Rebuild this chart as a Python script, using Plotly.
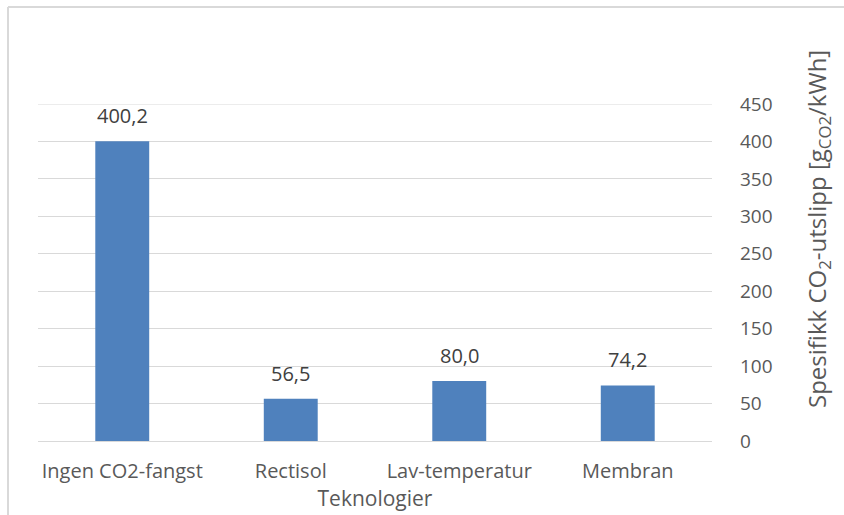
import plotly.graph_objects as go

categories = ["Ingen CO2-fangst", "Rectisol", "Lav-temperatur", "Membran"]
values = [400.2, 56.5, 80.0, 74.2]
labels = ["400,2", "56,5", "80,0", "74,2"]
y_ticks = [0, 50, 100, 150, 200, 250, 300, 350, 400, 450]

W, H = 844, 515
ml, mr, mt, mb = 38, 132, 104, 74
pw = W - ml - mr
ph = H - mt - mb

def px_to_paper_x(px):
    return (px - ml) / pw

def px_to_paper_y(py):
    return (H - mb - py) / ph

grey = "#595959"
font_family = "Open Sans, Liberation Sans, sans-serif"

fig = go.Figure(go.Bar(
    x=categories, y=values,
    marker=dict(color="#4F81BD", line=dict(width=0)),
    width=0.32, hoverinfo="x+y",
))

for c, v, t in zip(categories, values, labels):
    fig.add_annotation(x=c, y=v, text=t, showarrow=False, yanchor="bottom",
                       yshift=10, font=dict(size=20, color="#404040", family=font_family))

fig.add_annotation(
    text="Spesifikk CO<sub>2</sub>-utslipp [g<sub>CO2</sub>/kWh]",
    xref="paper", yref="paper", x=px_to_paper_x(818), y=px_to_paper_y(229),
    xanchor="center", yanchor="middle", textangle=-90, showarrow=False,
    font=dict(size=24, color=grey, family=font_family),
)

fig.update_layout(
    width=W, height=H,
    margin=dict(l=ml, r=mr, t=mt, b=mb),
    paper_bgcolor="white", plot_bgcolor="white",
    showlegend=False,
    font=dict(family=font_family, color=grey, size=20),
    xaxis=dict(
        automargin=False,
        showgrid=False, showline=True, linecolor="#d9d9d9", linewidth=1,
        ticks="", tickfont=dict(size=20, color=grey), ticklabelstandoff=12,
        title=dict(text="Teknologier", font=dict(size=21, color=grey), standoff=0),
    ),
    yaxis=dict(
        automargin=False,
        side="right", range=[0, 450], tickvals=y_ticks,
        showgrid=True, gridcolor="#d9d9d9", gridwidth=1,
        zeroline=False, showline=False, ticks="",
        tickfont=dict(size=19, color=grey), ticklabelstandoff=27,
    ),
    shapes=[
        dict(type="line", xref="paper", yref="paper",
             x0=px_to_paper_x(8), x1=px_to_paper_x(W + 10),
             y0=px_to_paper_y(7), y1=px_to_paper_y(7),
             line=dict(color="#d9d9d9", width=2)),
        dict(type="line", xref="paper", yref="paper",
             x0=px_to_paper_x(8), x1=px_to_paper_x(8),
             y0=px_to_paper_y(7), y1=px_to_paper_y(H + 10),
             line=dict(color="#d9d9d9", width=2)),
        dict(type="line", xref="paper", yref="y",
             x0=0, x1=1, y0=450, y1=450,
             line=dict(color="#d9d9d9", width=1)),
    ],
)

fig.write_html("out.html", config={"displayModeBar": False},
               post_script="document.body.style.margin='0';")
